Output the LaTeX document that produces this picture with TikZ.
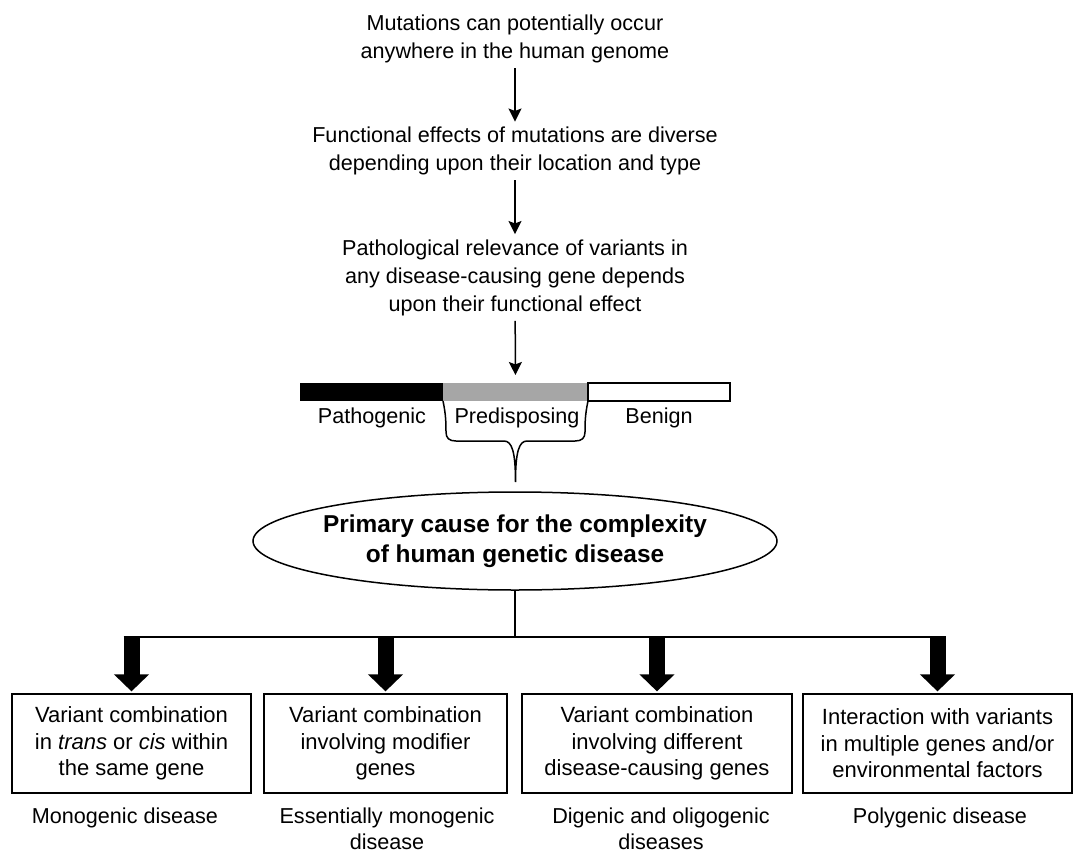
\documentclass[tikz,border=0pt]{standalone}
\usepackage{fontspec}
\setmainfont{Liberation Sans}
\usetikzlibrary{arrows.meta,shapes.geometric}

\begin{document}
\begin{tikzpicture}[x=0.5pt,y=-0.5pt,
    txt/.style={align=center,inner sep=2.5pt,font=\fontsize{10.8}{14}\selectfont},
    flow/.style={line width=0.75pt,-{Stealth[length=6.5pt,width=6.5pt,inset=1.2pt]}},
    seg/.style={minimum width=#1,minimum height=9pt,inner sep=0,outer sep=0},
    box/.style={draw,line width=0.6pt,align=center,minimum width=#1,minimum height=49.5pt,inner sep=0,font=\fontsize{11}{13.25}\selectfont},
    fat/.style={line width=8pt,-{Triangle[width=17pt,length=8.5pt]},shorten >=1pt},
    lab/.style={anchor=north,align=center,inner sep=0,font=\fontsize{10.8}{13.25}\selectfont}]

    \useasboundingbox (0,0) rectangle (1073,852);

    % chain at the top
    \node[txt] (A) at (515,39) {Mutations can potentially occur\\anywhere in the human genome};
    \node[txt] (B) at (515,151) {Functional effects of mutations are diverse\\depending upon their location and type};
    \node[txt] (C) at (515,277.5) {Pathological relevance of variants in\\any disease-causing gene depends\\upon their functional effect};

    % the bar
    \node[seg=71.5pt,fill=black] (P1) at (371.5,392) {};
    \node[seg=72.5pt,fill=gray!70] (P2) at (515.5,392) {};
    \node[seg=71pt,draw,line width=0.75pt,fill=white] (P3) at (659,392) {};
    \node[txt] (Pa) at (372,418) {Pathogenic};
    \node[txt] (Pr) at (517,418) {Predisposing};
    \node[txt] (Be) at (659,418) {Benign};

    \draw[flow] (A) -- (B);
    \draw[flow] (B) -- (C);
    \draw[flow,shorten >=4pt] (C) -- (P2);

    % brace under the middle part
    \coordinate (tip) at (515.5,482);
    \draw[line width=0.75pt] (P2.south west) .. controls (446,415) and (446,424) .. (446,432)
        .. controls (446,438) and (449,441) .. (456,441) -- (504,441)
        .. controls (512,441) and (515.5,452) .. (tip)
        .. controls (515.5,452) and (519,441) .. (527,441) -- (575,441)
        .. controls (582,441) and (585,438) .. (585,432)
        .. controls (585,424) and (585,415) .. (P2.south east);

    \node[draw,ellipse,line width=0.75pt,minimum width=262pt,minimum height=49pt,inner sep=0] (E) at (515,541) {};
    \node[align=center,font=\bfseries\fontsize{12.2}{15}\selectfont] (Et) at (E) {Primary cause for the complexity\\of human genetic disease};

    % four outcomes
    \node[box=119.5pt] (B1) at (131.5,743.5) {Variant combination\\in \textit{trans} or \textit{cis} within\\the same gene};
    \node[box=121.5pt] (B2) at (385.5,743.5) {Variant combination\\involving modifier\\genes};
    \node[box=135pt] (B3) at (657,743.5) {Variant combination\\involving different\\disease-causing genes};
    \node[box=134.5pt] (B4) at (937.5,743.5) {Interaction with variants\\in multiple genes and/or\\environmental factors};

    \coordinate (bus) at (515,637);
    \path (B1.north |- bus) coordinate (bl) (B4.north |- bus) coordinate (br);
    \draw[line width=0.75pt] (E) -- (bus);
    \draw[line width=0.75pt] ([xshift=-4pt]bl) -- ([xshift=4pt]br);
    \foreach \b in {B1,B2,B3,B4}
        \draw[fat] (\b.north |- bus) -- (\b.north);

    \node[lab] (L1) at (125,807) {Monogenic disease};
    \node[lab] (L2) at (387,807) {Essentially monogenic\\disease};
    \node[lab] (L3) at (661,807) {Digenic and oligogenic\\diseases};
    \node[lab] (L4) at (940,807) {Polygenic disease};
\end{tikzpicture}
\end{document}
